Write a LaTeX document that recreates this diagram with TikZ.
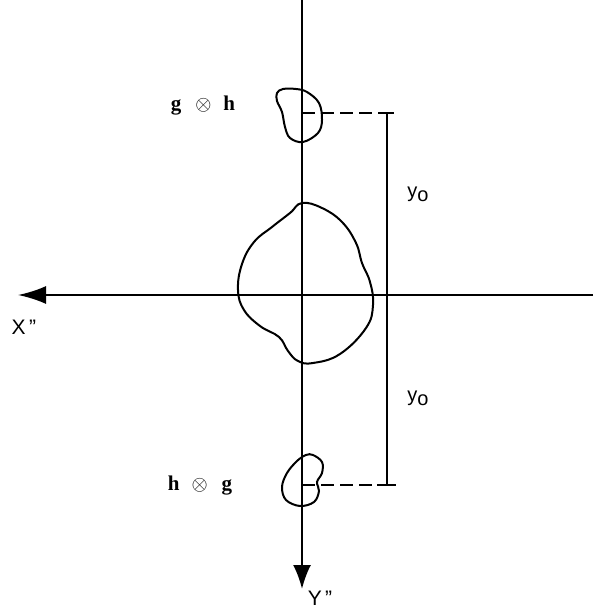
\documentclass[tikz,border=0pt]{standalone}
\usepackage{fontspec}
\setmainfont{Liberation Sans}
\newfontfamily\lblserif{Liberation Serif}
\usetikzlibrary{arrows.meta}
\begin{document}
\begin{tikzpicture}[x=1pt,y=-1pt,
  axis/.style={line width=2.2pt},
  blob/.style={line width=2pt},
  thin/.style={line width=1.3pt},
  lab/.style={font=\fontsize{21}{23}\selectfont, inner sep=0pt},
  tlab/.style={font=\lblserif\bfseries\fontsize{21}{23}\selectfont, inner sep=0pt},
  ylab/.style={font=\fontsize{20}{22}\selectfont, inner sep=0pt}]
\useasboundingbox (0,0) rectangle (593,609);
% axes
\coordinate (xr) at (593,295);
\coordinate (xl) at (18,295);
\coordinate (yt) at (302,0);
\coordinate (yb) at (302,589);
\draw[axis,-{Latex[length=28pt,width=18pt]}] (xr) -- (xl);
\draw[axis,-{Latex[length=24pt,width=18pt]}] (yt) -- (yb);
\node[lab] (X) at (24,327) {X\,''};
\node[lab] (Y) at (320,598) {Y\,''};
% big blob
\draw[blob] plot[smooth cycle, tension=0.7] coordinates {
 (302,203) (322,208) (342,222) (356,243) (362,263) (370,282) (373,305)
 (366,328) (340,354) (313,363) (298,361) (288,351) (279,337) (260,326)
 (244,310) (238,290) (242,264) (254,242) (272,227) (290,213)};
% top small blob
\draw[blob] plot[smooth cycle, tension=0.6] coordinates {
 (283,89) (296,89) (307,92) (319,103) (322,120) (318,133) (303,142)
 (290,138) (285,127) (282,112) (277,101) (277,93)};
% bottom small blob
\draw[blob] plot[smooth cycle, tension=0.6] coordinates {
 (313,455) (322,462) (322,473) (317,482) (319,491) (314,502) (300,506)
 (286,500) (282,487) (287,473) (297,461) (306,455)};
% bracket
\coordinate (bt) at (387,113);
\coordinate (bb) at (387,485);
\coordinate (ct) at (302,113);
\coordinate (cb) at (302,485);
\draw[thin] (bt) -- (bb);
\draw[thin] ([xshift=-8pt]bt) -- ([xshift=7pt]bt);
\draw[thin] ([xshift=-10pt]bb) -- ([xshift=9pt]bb);
\draw[thin,dash pattern=on 13pt off 6pt] (ct) -- (bt);
\draw[thin,dash pattern=on 13pt off 6pt] (cb) -- (bb);
% labels
\node[tlab] (gh) at (203,106) {g\hspace{14pt}$\otimes$\hspace{12pt}h};
\node[tlab] (hg) at (200,486) {h\hspace{12pt}$\otimes$\hspace{14pt}g};
\node[ylab] (y1) at (418,194) {y\raisebox{-4pt}{o}};
\node[ylab] (y2) at (418,398) {y\raisebox{-4pt}{o}};
\end{tikzpicture}
\end{document}
